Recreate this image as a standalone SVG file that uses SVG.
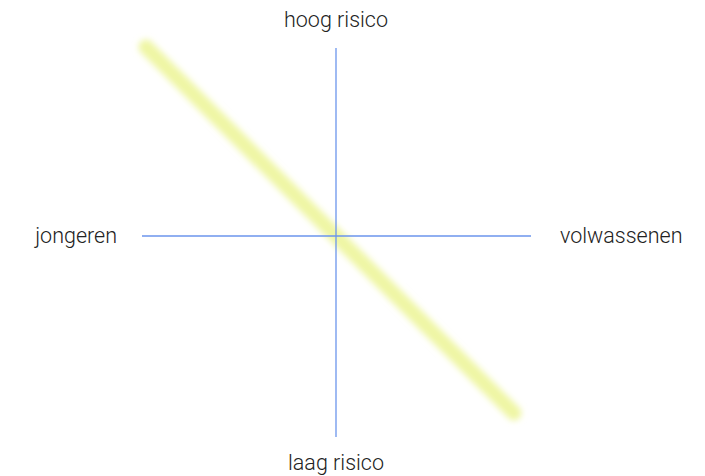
<svg xmlns="http://www.w3.org/2000/svg" width="705" height="476" viewBox="0 0 705 476">
<style>
text{font-family:Roboto,"Liberation Sans",sans-serif;font-weight:300;font-size:21.5px;fill:#222}
.axis{stroke:#6b95ec;stroke-width:1.3;fill:none}
</style>
<defs>
<filter id="blur" x="-20%" y="-20%" width="140%" height="140%"><feGaussianBlur stdDeviation="3.3"/></filter>
</defs>
<g id="trend"><line x1="146" y1="47" x2="514" y2="413" stroke="#eff6a4" stroke-width="15" stroke-linecap="round" filter="url(#blur)"/></g>
<g id="connectors">
<line class="axis" x1="336" y1="48" x2="336" y2="437"/>
<line class="axis" x1="142" y1="236" x2="531" y2="236"/>
</g>
<g id="top"><text x="336" y="27" text-anchor="middle">hoog risico</text></g>
<g id="bottom"><text x="336" y="470" text-anchor="middle">laag risico</text></g>
<g id="left"><text x="117" y="243" text-anchor="end">jongeren</text></g>
<g id="right"><text x="560" y="243">volwassenen</text></g>
</svg>
